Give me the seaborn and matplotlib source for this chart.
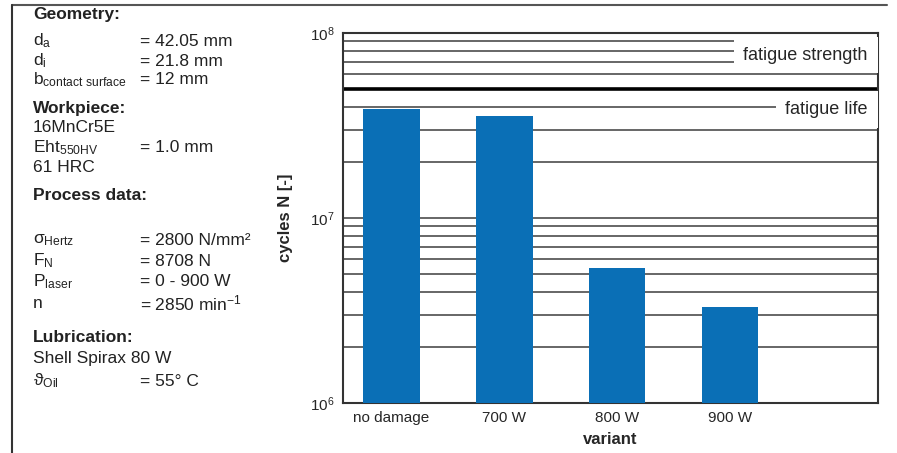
import matplotlib

matplotlib.use("Agg")
import matplotlib.pyplot as plt
import matplotlib.ticker as mticker
import seaborn as sns
from matplotlib.lines import Line2D
from matplotlib.transforms import blended_transform_factory

# chart values
variants = ["no damage", "700 W", "800 W", "900 W"]
cycles = [3.9e7, 3.55e7, 5.4e6, 3.3e6]
fatigue_limit = 5.0e7
region_labels = ["fatigue strength", "fatigue life"]
region_label_y = [7.6e7, 3.85e7]

# parameter panel on the left: (name, value, is_header)
params = [
    ("Geometry:", "", True),
    ("d$_\\mathregular{a}$", "= 42.05 mm", False),
    ("d$_\\mathregular{i}$", "= 21.8 mm", False),
    ("b$_\\mathregular{contact\\ surface}$", "= 12 mm", False),
    ("Workpiece:", "", True),
    ("16MnCr5E", "", False),
    ("Eht$_\\mathregular{550HV}$", "= 1.0 mm", False),
    ("61 HRC", "", False),
    ("Process data:", "", True),
    ("σ$_\\mathregular{Hertz}$", "= 2800 N/mm²", False),
    ("F$_\\mathregular{N}$", "= 8708 N", False),
    ("P$_\\mathregular{laser}$", "= 0 - 900 W", False),
    ("n", "= 2850 min$^\\mathregular{-1}$", False),
    ("Lubrication:", "", True),
    ("Shell Spirax 80 W", "", False),
    ("ϑ$_\\mathregular{Oil}$", "= 55° C", False),
]
param_rows = [15, 41, 61, 80, 108, 128, 148, 167, 195, 240, 261, 282, 303, 338, 359, 381]

sns.set_style("white")
plt.rcParams["font.family"] = ["Liberation Sans", "DejaVu Sans"]
plt.rcParams["mathtext.fontset"] = "custom"
plt.rcParams["mathtext.rm"] = "Liberation Sans"
plt.rcParams["mathtext.it"] = "Liberation Sans:italic"
plt.rcParams["mathtext.bf"] = "Liberation Sans:bold"

W, H = 897, 453
fig = plt.figure(figsize=(W / 100, H / 100), dpi=100)
ax = fig.add_axes([343 / W, 50 / H, 535 / W, 370 / H])

sns.barplot(x=variants, y=cycles, color="#0a6fb6", width=0.5, saturation=1,
            edgecolor="none", zorder=3, ax=ax)
ax.set_yscale("log")
ax.set_ylim(1e6, 1e8)
ax.set_xlim(-0.43, 4.31)

ax.yaxis.set_major_locator(mticker.LogLocator(base=10))
ax.yaxis.set_minor_locator(mticker.LogLocator(base=10, subs=range(2, 10)))
ax.yaxis.set_minor_formatter(mticker.NullFormatter())
ax.grid(True, axis="y", which="both", color="#5a5a5a", linewidth=1.3, zorder=1)
ax.set_axisbelow(True)
ax.tick_params(axis="both", which="both", length=0, labelsize=11, pad=6)
ax.axhline(fatigue_limit, color="black", linewidth=2.6, zorder=2)

trans = blended_transform_factory(ax.transAxes, ax.transData)
for label, yv in zip(region_labels, region_label_y):
    ax.text(0.981, yv, label, transform=trans, ha="right", va="center",
            fontsize=13, zorder=4,
            bbox=dict(facecolor="white", edgecolor="none", pad=7))

for side in ax.spines.values():
    side.set_color("#333333")
    side.set_linewidth(1.5)

ax.set_xlabel("variant", fontsize=12, fontweight="bold", labelpad=5)
ax.set_ylabel("cycles N [-]", fontsize=12, fontweight="bold", labelpad=12)

# text panel
for (name, value, header), yp in zip(params, param_rows):
    fig.text(33 / W, 1 - yp / H, name, ha="left", va="center", fontsize=12.5,
             fontweight="bold" if header else "normal", color="#222222")
    if value:
        fig.text(140 / W, 1 - yp / H, value, ha="left", va="center",
                 fontsize=12.5, color="#222222")

# outer frame
fig.add_artist(Line2D([12 / W, 887 / W], [1 - 5 / H, 1 - 5 / H],
                      color="#555555", linewidth=1.5))
fig.add_artist(Line2D([12 / W, 12 / W], [0, 1 - 5 / H],
                      color="#333333", linewidth=1.5))

fig.savefig("out.png", dpi=100)
